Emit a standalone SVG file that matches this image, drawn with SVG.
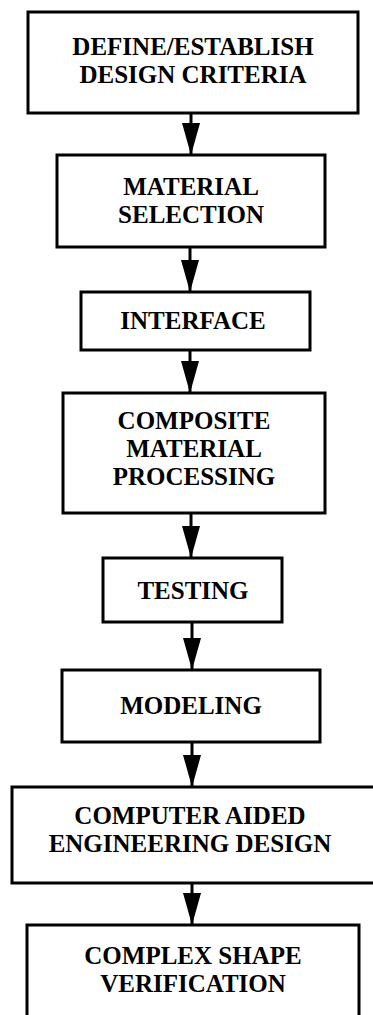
<svg xmlns="http://www.w3.org/2000/svg" width="373" height="1015" viewBox="0 0 373 1015">
<style>
.box{fill:#fff;stroke:#000;stroke-width:3}
.t{font-family:"Liberation Serif","Times New Roman",serif;font-weight:bold;font-size:25px;fill:#000;text-anchor:middle}
.c{stroke:#000;stroke-width:3;fill:none;marker-end:url(#ah)}
</style>
<defs>
<marker id="ah" viewBox="0 0 32 18" refX="32" refY="9" markerWidth="32" markerHeight="18" markerUnits="userSpaceOnUse" orient="auto">
<path d="M0,0 L32,9 L0,18 Z" fill="#000"/>
</marker>
</defs>
<rect width="373" height="1015" fill="#fff"/>
<g id="connectors">
<line class="c" x1="191" y1="113" x2="191" y2="155"/>
<line class="c" x1="190" y1="247" x2="190" y2="292"/>
<line class="c" x1="190" y1="350" x2="190" y2="393"/>
<line class="c" x1="191" y1="513" x2="191" y2="558"/>
<line class="c" x1="192" y1="622" x2="192" y2="670"/>
<line class="c" x1="192" y1="742" x2="192" y2="787"/>
<line class="c" x1="192" y1="883" x2="192" y2="925"/>
</g>
<g id="n1">
<rect class="box" x="28" y="12" width="330" height="101"/>
<text class="t" x="193" y="55">DEFINE/ESTABLISH</text>
<text class="t" x="193" y="83">DESIGN CRITERIA</text>
</g>
<g id="n2">
<rect class="box" x="57" y="155" width="268" height="92"/>
<text class="t" x="191" y="195">MATERIAL</text>
<text class="t" x="191" y="223">SELECTION</text>
</g>
<g id="n3">
<rect class="box" x="81" y="292" width="229" height="58"/>
<text class="t" x="193" y="329">INTERFACE</text>
</g>
<g id="n4">
<rect class="box" x="63" y="393" width="262" height="120"/>
<text class="t" x="194" y="429">COMPOSITE</text>
<text class="t" x="194" y="457">MATERIAL</text>
<text class="t" x="194" y="485">PROCESSING</text>
</g>
<g id="n5">
<rect class="box" x="103" y="558" width="179" height="64"/>
<text class="t" x="193" y="599">TESTING</text>
</g>
<g id="n6">
<rect class="box" x="62" y="670" width="258" height="72"/>
<text class="t" x="191" y="714">MODELING</text>
</g>
<g id="n7">
<rect class="box" x="12" y="787" width="370" height="96"/>
<text class="t" x="190" y="824">COMPUTER AIDED</text>
<text class="t" x="190" y="852">ENGINEERING DESIGN</text>
</g>
<g id="n8">
<rect class="box" x="27" y="925" width="332" height="100"/>
<text class="t" x="193" y="964">COMPLEX SHAPE</text>
<text class="t" x="193" y="992">VERIFICATION</text>
</g>
</svg>
